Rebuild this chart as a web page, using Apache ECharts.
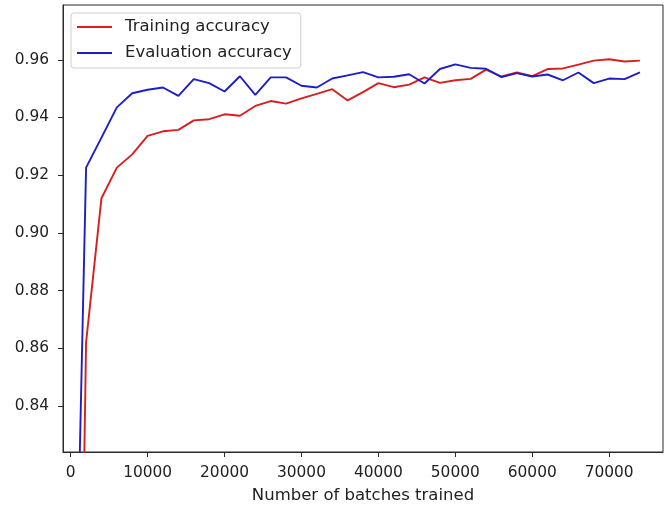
<!DOCTYPE html>
<html>
<head>
<meta charset="utf-8">
<script src="https://cdn.jsdelivr.net/npm/echarts@6/dist/echarts.min.js"></script>
<style>
  html, body { margin: 0; padding: 0; background: #ffffff; }
  #chart { width: 667px; height: 507px; }
</style>
</head>
<body>
<div id="chart"></div>
<script>
const batches = [0, 2000, 4000, 6000, 8000, 10000, 12000, 14000, 16000, 18000,
  20000, 22000, 24000, 26000, 28000, 30000, 32000, 34000, 36000, 38000,
  40000, 42000, 44000, 46000, 48000, 50000, 52000, 54000, 56000, 58000,
  60000, 62000, 64000, 66000, 68000, 70000, 72000, 74000];
const trainingAccuracy = [0.52, 0.862, 0.912, 0.9226, 0.9272, 0.9336, 0.9352, 0.9357, 0.9390, 0.9394,
  0.9411, 0.9406, 0.9440, 0.9457, 0.9448, 0.9466, 0.9482, 0.9498, 0.9459, 0.9488,
  0.9519, 0.9505, 0.9514, 0.9539, 0.9520, 0.9529, 0.9534, 0.9566, 0.9542, 0.9556,
  0.9543, 0.9568, 0.9570, 0.9583, 0.9597, 0.9602, 0.9594, 0.9597];
const evaluationAccuracy = [0.68, 0.9226, 0.933, 0.9435, 0.9484, 0.9496, 0.9504, 0.9475, 0.9533, 0.9519,
  0.9490, 0.9543, 0.9478, 0.9539, 0.9539, 0.9510, 0.9504, 0.9535, 0.9546, 0.9557,
  0.9539, 0.9541, 0.9550, 0.9518, 0.9568, 0.9584, 0.9572, 0.9569, 0.9540, 0.9554,
  0.9542, 0.9549, 0.9529, 0.9556, 0.9519, 0.9535, 0.9533, 0.9556];
const xTicks = [0, 10000, 20000, 30000, 40000, 50000, 60000, 70000];
const yTicks = [0.84, 0.86, 0.88, 0.90, 0.92, 0.94, 0.96];
const seriesNames = ['Training accuracy', 'Evaluation accuracy'];
const xAxisTitle = 'Number of batches trained';

const FONT = 'DejaVu Sans';
const chart = echarts.init(document.getElementById('chart'), null, { renderer: 'canvas' });

const pairs = (ys) => batches.map((b, i) => [b, ys[i]]);

chart.setOption({
  animation: false,
  backgroundColor: '#ffffff',
  textStyle: { fontFamily: FONT },
  grid: {
    left: 63, right: 4, top: 5, bottom: 55,
    outerBoundsMode: 'none',
    containLabel: false,
    show: true, borderColor: '#2a2a2a', borderWidth: 1, backgroundColor: 'transparent'
  },
  legend: {
    left: 71, top: 13,
    orient: 'vertical',
    data: seriesNames,
    icon: 'rect',
    itemWidth: 35, itemHeight: 2,
    itemGap: 6,
    padding: [4, 9, 5, 6],
    backgroundColor: '#ffffff',
    borderColor: '#d0d0d0', borderWidth: 1, borderRadius: 3,
    textStyle: { fontFamily: FONT, fontSize: 16.5, color: '#222', lineHeight: 20, padding: [0, 0, 0, 8] }
  },
  xAxis: {
    type: 'value',
    min: -1000, max: 77000,
    name: xAxisTitle,
    nameLocation: 'middle',
    nameGap: 35,
    nameTextStyle: { fontFamily: FONT, fontSize: 16.5, color: '#222' },
    splitLine: { show: false },
    axisLine: { show: true, onZero: false, lineStyle: { color: '#2a2a2a', width: 1 } },
    axisTick: { show: true, customValues: xTicks, length: 5, lineStyle: { color: '#2a2a2a' } },
    axisLabel: { customValues: xTicks, fontFamily: FONT, fontSize: 15.4, color: '#222', margin: 13,
      formatter: (v) => String(v) }
  },
  yAxis: {
    type: 'value',
    min: 0.824, max: 0.979,
    splitLine: { show: false },
    axisLine: { show: true, onZero: false, lineStyle: { color: '#2a2a2a', width: 1 } },
    axisTick: { show: true, customValues: yTicks, length: 5, lineStyle: { color: '#2a2a2a' } },
    axisLabel: { customValues: yTicks, fontFamily: FONT, fontSize: 15.4, color: '#222', margin: 14,
      formatter: (v) => v.toFixed(2) }
  },
  series: [
    {
      name: seriesNames[0], type: 'line', data: pairs(trainingAccuracy),
      symbol: 'none', clip: true, color: '#d81e1e',
      lineStyle: { width: 1.9, color: '#d81e1e' }, z: 2
    },
    {
      name: seriesNames[1], type: 'line', data: pairs(evaluationAccuracy),
      symbol: 'none', clip: true, color: '#1e1ec8',
      lineStyle: { width: 1.9, color: '#1e1ec8' }, z: 3
    }
  ]
});
</script>
</body>
</html>
